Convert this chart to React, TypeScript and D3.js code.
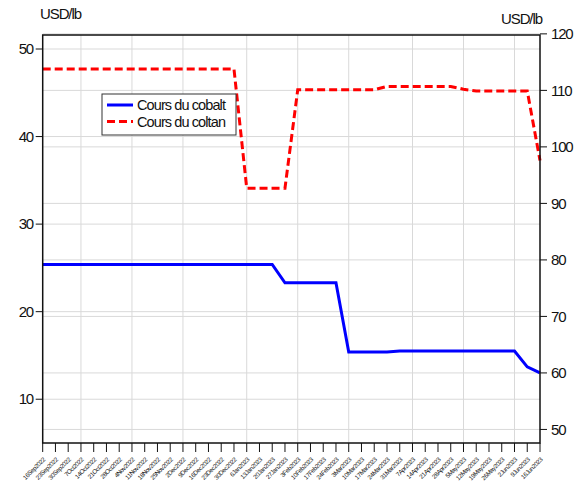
import * as React from 'react';
import * as d3 from 'd3';

const dates = [
  '16Sep2022', '23Sep2022', '30Sep2022', '7Oct2022', '14Oct2022', '21Oct2022', '28Oct2022',
  '4Nov2022', '11Nov2022', '18Nov2022', '25Nov2022', '2Dec2022', '9Dec2022', '16Dec2022',
  '23Dec2022', '30Dec2022', '6Jan2023', '13Jan2023', '20Jan2023', '27Jan2023', '3Feb2023',
  '10Feb2023', '17Feb2023', '24Feb2023', '3Mar2023', '10Mar2023', '17Mar2023', '24Mar2023',
  '31Mar2023', '7Apr2023', '14Apr2023', '21Apr2023', '28Apr2023', '5May2023', '12May2023',
  '19May2023', '26May2023', '2Jun2023', '9Jun2023', '16Jun2023',
];

// Cours du cobalt (axe gauche)
const cobalt = [
  25.4, 25.4, 25.4, 25.4, 25.4, 25.4, 25.4, 25.4, 25.4, 25.4,
  25.4, 25.4, 25.4, 25.4, 25.4, 25.4, 25.4, 25.4, 25.4, 23.3,
  23.3, 23.3, 23.3, 23.3, 15.4, 15.4, 15.4, 15.4, 15.5, 15.5,
  15.5, 15.5, 15.5, 15.5, 15.5, 15.5, 15.5, 15.5, 13.7, 13.0,
];

// Cours du coltan (axe droit)
const coltan = [
  113.8, 113.8, 113.8, 113.8, 113.8, 113.8, 113.8, 113.8, 113.8, 113.8,
  113.8, 113.8, 113.8, 113.8, 113.8, 113.8, 92.7, 92.7, 92.7, 92.7,
  110.1, 110.1, 110.1, 110.1, 110.1, 110.1, 110.1, 110.7, 110.7, 110.7,
  110.7, 110.7, 110.7, 110.2, 109.9, 109.9, 109.9, 109.9, 109.9, 97.6,
];

const leftTicks = [10, 20, 30, 40, 50];
const rightTicks = [50, 60, 70, 80, 90, 100, 110, 120];
const seriesNames = ['Cours du cobalt', 'Cours du coltan'];

const font = '"Liberation Sans", Arial, sans-serif';

export default function App() {
  const ref = React.useRef<SVGSVGElement>(null);

  React.useEffect(() => {
    const svg = d3.select(ref.current);
    svg.selectAll('*').remove();

    const left = 42.7, right = 540, top = 35, bottom = 443;

    const x = d3.scalePoint<string>().domain(dates).range([left, right]);
    const yL = d3.scaleLinear().domain([5, 51.6]).range([bottom, top]);
    const yR = d3.scaleLinear().domain([47.6, 119.8]).range([bottom, top]);

    const grid = svg.append('g').attr('stroke', '#d9d9d9').attr('stroke-width', 1);
    leftTicks.forEach(t => {
      grid.append('line').attr('x1', left).attr('x2', right).attr('y1', yL(t)).attr('y2', yL(t));
    });
    rightTicks.forEach(t => {
      grid.append('line').attr('x1', left).attr('x2', right).attr('y1', yR(t)).attr('y2', yR(t));
    });
    // vertical grid at the first week of each month
    dates.forEach((d, i) => {
      if (i === 0) return;
      const m = d.replace(/^\d+/, '').slice(0, 3);
      const pm = dates[i - 1].replace(/^\d+/, '').slice(0, 3);
      if (m !== pm) {
        grid.append('line').attr('x1', x(d)!).attr('x2', x(d)!).attr('y1', top).attr('y2', bottom);
      }
    });

    const lineL = d3.line<number>().x((_, i) => x(dates[i])!).y(d => yL(d));
    const lineR = d3.line<number>().x((_, i) => x(dates[i])!).y(d => yR(d));

    svg.append('path').datum(coltan)
      .attr('d', lineR)
      .attr('fill', 'none')
      .attr('stroke', '#ff0000')
      .attr('stroke-width', 3)
      .attr('stroke-dasharray', '8,4');

    svg.append('path').datum(cobalt)
      .attr('d', lineL)
      .attr('fill', 'none')
      .attr('stroke', '#0000ff')
      .attr('stroke-width', 3);

    // frame
    svg.append('rect')
      .attr('x', left).attr('y', top)
      .attr('width', right - left).attr('height', bottom - top)
      .attr('fill', 'none').attr('stroke', '#111').attr('stroke-width', 1.5);

    const txt = svg.append('g').attr('font-family', font).attr('fill', '#111');

    leftTicks.forEach(t => {
      svg.append('line').attr('x1', left - 7).attr('x2', left).attr('y1', yL(t)).attr('y2', yL(t))
        .attr('stroke', '#111');
      txt.append('text').attr('x', 33).attr('y', yL(t)).attr('dy', '0.35em')
        .attr('text-anchor', 'end').attr('font-size', 15).attr('letter-spacing', -1.2).text(t);
    });
    rightTicks.forEach(t => {
      svg.append('line').attr('x1', right).attr('x2', right + 7).attr('y1', yR(t)).attr('y2', yR(t))
        .attr('stroke', '#111');
      txt.append('text').attr('x', 551).attr('y', yR(t)).attr('dy', '0.35em')
        .attr('font-size', 15).attr('letter-spacing', -1.2).text(t);
    });

    dates.forEach(d => {
      svg.append('line').attr('x1', x(d)!).attr('x2', x(d)!).attr('y1', bottom).attr('y2', bottom + 9)
        .attr('stroke', '#111');
      txt.append('text')
        .attr('transform', `translate(${x(d)! + 3},${bottom + 17}) rotate(-45)`)
        .attr('text-anchor', 'end').attr('font-size', 6.3).attr('letter-spacing', -0.4)
        .text(d);
    });

    txt.append('text').attr('x', 40).attr('y', 19).attr('font-size', 15)
      .attr('letter-spacing', -1.1).text('USD/lb');
    txt.append('text').attr('x', 501).attr('y', 24).attr('font-size', 15)
      .attr('letter-spacing', -1.1).text('USD/lb');

    // legend
    const lg = svg.append('g');
    lg.append('rect').attr('x', 102).attr('y', 94).attr('width', 134).attr('height', 41)
      .attr('fill', '#fff').attr('stroke', '#333').attr('stroke-width', 1);
    const colors = ['#0000ff', '#ff0000'];
    seriesNames.forEach((s, i) => {
      const yy = 105 + i * 16.5;
      lg.append('line').attr('x1', 107).attr('x2', 133).attr('y1', yy).attr('y2', yy)
        .attr('stroke', colors[i]).attr('stroke-width', 3)
        .attr('stroke-dasharray', i === 1 ? '8,4' : null);
      lg.append('text').attr('x', 137).attr('y', yy).attr('dy', '0.35em')
        .attr('font-family', font).attr('font-size', 14.5).attr('letter-spacing', -0.9)
        .attr('fill', '#111').text(s);
    });
  }, []);

  return (
    <svg ref={ref} width="583" height="483"
      style={{ position: 'absolute', left: 0, top: 0, background: '#fff' }}></svg>
  );
}
